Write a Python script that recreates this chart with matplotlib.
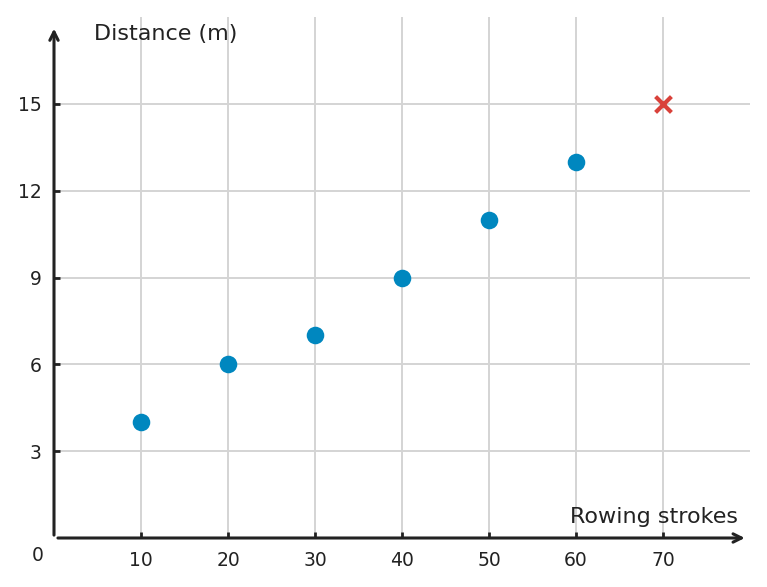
import matplotlib
matplotlib.use("Agg")
import matplotlib.pyplot as plt

strokes = [10, 20, 30, 40, 50, 60]
distance = [4, 6, 7, 9, 11, 13]
outlier_x = [70]
outlier_y = [15]
x_ticks = [10, 20, 30, 40, 50, 60, 70]
y_ticks = [3, 6, 9, 12, 15]
x_label = "Rowing strokes"
y_label = "Distance (m)"

fig = plt.figure(figsize=(7.67, 5.87), dpi=100)
ax = fig.add_axes([54/767, 49/587, 696/767, 521/587])
ax.set_xlim(0, 80)
ax.set_ylim(0, 18)

for s in ax.spines.values():
    s.set_visible(False)

ax.set_xticks(x_ticks)
ax.set_yticks(y_ticks)
ax.grid(True, color="#d4d4d4", linewidth=1.4)
ax.set_axisbelow(True)
ax.tick_params(axis="both", direction="in", length=4, width=2, color="#222222",
               labelsize=13.5, labelcolor="#222222", pad=9)

dark = "#222222"
ax.annotate("", xy=(79.4, 0), xytext=(0.45, 0), xycoords="data",
            arrowprops=dict(arrowstyle="->,head_length=0.6,head_width=0.3",
                            color=dark, lw=2.2, shrinkA=0, shrinkB=0))
ax.annotate("", xy=(0, 17.6), xytext=(0, 0.1), xycoords="data",
            arrowprops=dict(arrowstyle="->,head_length=0.6,head_width=0.3",
                            color=dark, lw=2.2, shrinkA=0, shrinkB=0))

ax.scatter(strokes, distance, s=160, color="#0087bf", zorder=5, linewidths=0)
ax.scatter(outlier_x, outlier_y, s=130, marker="x", color="#d9413a", linewidths=3, zorder=5)

ax.text(4.6, 17.4, y_label, fontsize=16, color=dark, ha="left", va="center")
ax.text(78.6, 0.72, x_label, fontsize=16, color=dark, ha="right", va="center")
ax.text(-1.9, -0.62, "0", fontsize=13.5, color=dark, ha="center", va="center")

fig.savefig("out.png", dpi=100)
